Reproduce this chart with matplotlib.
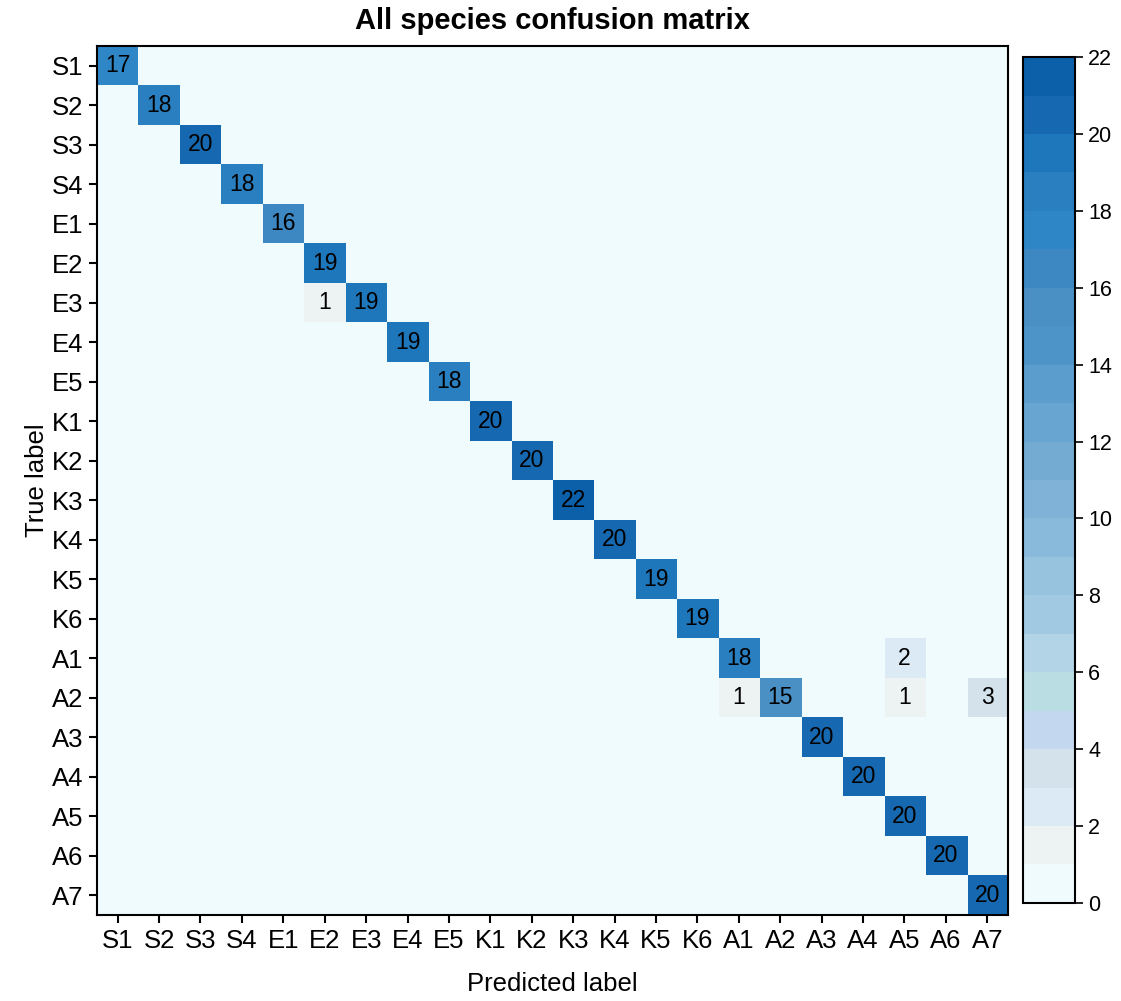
import numpy as np
import matplotlib
matplotlib.use("Agg")
import matplotlib.pyplot as plt
from matplotlib.colors import ListedColormap, BoundaryNorm

plt.rcParams["font.family"] = ["Liberation Sans", "DejaVu Sans"]

labels = ["S1", "S2", "S3", "S4", "E1", "E2", "E3", "E4", "E5",
          "K1", "K2", "K3", "K4", "K5", "K6",
          "A1", "A2", "A3", "A4", "A5", "A6", "A7"]
diag_counts = [17, 18, 20, 18, 16, 19, 19, 19, 18, 20, 20, 22, 20, 19, 19,
               18, 15, 20, 20, 20, 20, 20]
# (true, predicted, count) for the misclassified samples
off_diag = [("E3", "E2", 1), ("A1", "A5", 2), ("A2", "A1", 1),
            ("A2", "A5", 1), ("A2", "A7", 3)]

# stepped blue palette, one colour per unit
palette = ["#f0fbfd", "#edf3f3", "#dceaf5", "#d3e2eb", "#c3d7ee", "#badde3",
           "#b3d4e6", "#a1c9e2", "#97c3de", "#8abadb", "#7fb2d6", "#74abd3",
           "#69a5d1", "#5b9ecd", "#4d95c9", "#4a90c5", "#3d88c3", "#2f86c7",
           "#2a7fc0", "#1e76bb", "#1669b0", "#0c60aa"]

n = len(labels)
cm = np.zeros((n, n), dtype=int)
for i, v in enumerate(diag_counts):
    cm[i, i] = v
for t, p, v in off_diag:
    cm[labels.index(t), labels.index(p)] = v

cmap = ListedColormap(palette)
norm = BoundaryNorm(np.arange(0, 23), cmap.N)

fig = plt.figure(figsize=(11.21, 10.01), dpi=100)
fig.patch.set_facecolor("white")
ax = fig.add_axes([0.0865, 0.086, 0.8127, 0.868])
cax = fig.add_axes([0.9126, 0.098, 0.0464, 0.845])

im = ax.imshow(cm, cmap=cmap, norm=norm, aspect="auto", interpolation="nearest")

for i in range(n):
    for j in range(n):
        if cm[i, j] > 0:
            ax.text(j, i, str(cm[i, j]), ha="center", va="center",
                    fontsize=16.5, color="black")

ax.set_xticks(range(n))
ax.set_xticklabels(labels, fontsize=18.5)
ax.set_yticks(range(n))
ax.set_yticklabels(labels, fontsize=18.5)
ax.tick_params(length=6, width=1.5, direction="out", pad=4)
ax.set_xlabel("Predicted label", fontsize=18.5, labelpad=14)
ax.set_ylabel("True label", fontsize=18.5, labelpad=2)
ax.set_title("All species confusion matrix", fontsize=21, fontweight="bold", pad=12)
for s in ax.spines.values():
    s.set_linewidth(1.5)

cb = fig.colorbar(im, cax=cax, ticks=np.arange(0, 23, 2))
cb.ax.minorticks_off()
cb.ax.tick_params(labelsize=15.5, length=6, width=1.2)
cb.outline.set_linewidth(1.5)

plt.savefig("out.png", dpi=100)
